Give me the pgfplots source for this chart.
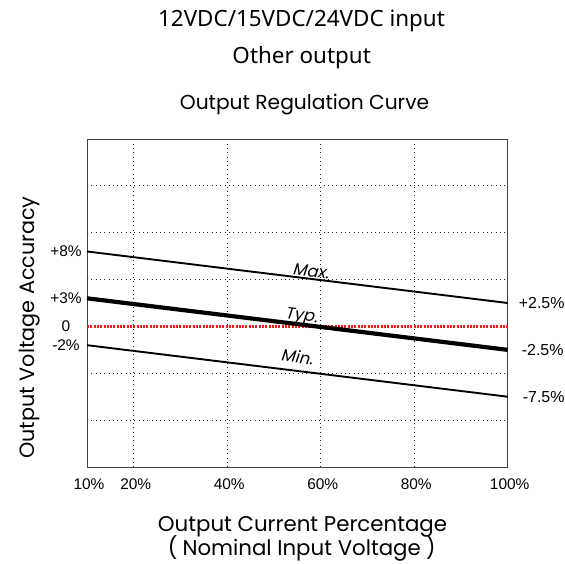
\documentclass[border=0pt]{standalone}
\usepackage{fontspec}
\setmainfont{Liberation Sans}
\newfontfamily\titlefont{Noto Sans}
\newfontfamily\geofont{Poppins}
\newfontfamily\geoslant[FakeSlant=0.2]{Poppins}
\usepackage{pgfplots}
\pgfplotsset{compat=1.18}
\definecolor{zerored}{RGB}{236,30,24}
\begin{document}
\begin{tikzpicture}
\path[use as bounding box] (0,0) rectangle (565bp,-564bp);
\node[anchor=base, font=\titlefont\fontsize{22.5}{26}\selectfont] at (301.5bp,-26.7bp) {12VDC/15VDC/24VDC input};
\node[anchor=base, font=\titlefont\fontsize{22.5}{26}\selectfont] at (301.7bp,-63.3bp) {Other output};
\node[anchor=base, font=\geofont\fontsize{20.3}{24}\selectfont] at (304.5bp,-109bp) {Output Regulation Curve};
\node[anchor=base, inner sep=0pt, font=\geofont\fontsize{21.4}{24}\selectfont] at (302.5bp,-531.7bp) {Output Current Percentage};
\node[anchor=base, inner sep=0pt, font=\geofont\fontsize{21.4}{24}\selectfont] at (301.7bp,-555bp) {(\hspace{5bp}Nominal Input Voltage\hspace{5bp})};
\node[anchor=base, rotate=90, font=\geofont\fontsize{20.8}{24}\selectfont] at (34bp,-327.5bp) {Output Voltage Accuracy};
\begin{axis}[
  at={(87bp,-467bp)}, anchor=south west,
  scale only axis, width=420.7bp, height=328bp,
  xmin=10, xmax=100, ymin=-15, ymax=20,
  clip=false,
  xtick={10,20,40,60,80,100},
  xticklabels={10\%,20\%,40\%,60\%,80\%,100\%},
  ytick={-2,0,3,8},
  yticklabels={-2\%,0,+3\%,+8\%},
  extra y ticks={-10,-5,5,10,15},
  extra y tick labels={},
  extra y tick style={ymajorgrids=true},
  xmajorgrids=true,
  grid style={black!85, line width=0.9bp, dash pattern=on 0.9bp off 3.4bp},
  major tick length=0pt,
  tick label style={font=\fontsize{15.5}{18}\selectfont},
  xticklabel style={yshift=-8bp, xshift=2bp},
  yticklabel style={anchor=center, xshift=-21bp},
  axis line style={black!75, line width=0.9bp},
]
\addplot[zerored, line width=2.2bp, dash pattern=on 2bp off 1.3bp] coordinates {(10,0) (100,0)};
\addplot[black, line width=1.9bp] coordinates {(10,8) (100,2.5)}
  node[pos=0.53, sloped, anchor=base, yshift=2bp, font=\geoslant\fontsize{16.5}{18}\selectfont] {Max.};
\addplot[black, line width=4.2bp] coordinates {(10,3) (100,-2.5)}
  node[pos=0.507, sloped, anchor=base, yshift=4bp, font=\geoslant\fontsize{16.5}{18}\selectfont] {Typ.};
\addplot[black, line width=1.9bp] coordinates {(10,-2) (100,-7.5)}
  node[pos=0.495, sloped, anchor=base, yshift=8bp, font=\geoslant\fontsize{16.5}{18}\selectfont] {Min.};
\node[anchor=east, font=\fontsize{16}{18}\selectfont, inner sep=0pt] at (axis cs:100,2.5) [xshift=57bp] {+2.5\%};
\node[anchor=east, font=\fontsize{16}{18}\selectfont, inner sep=0pt] at (axis cs:100,-2.5) [xshift=56bp] {-2.5\%};
\node[anchor=east, font=\fontsize{16}{18}\selectfont, inner sep=0pt] at (axis cs:100,-7.5) [xshift=57bp] {-7.5\%};
\end{axis}
\end{tikzpicture}
\end{document}
